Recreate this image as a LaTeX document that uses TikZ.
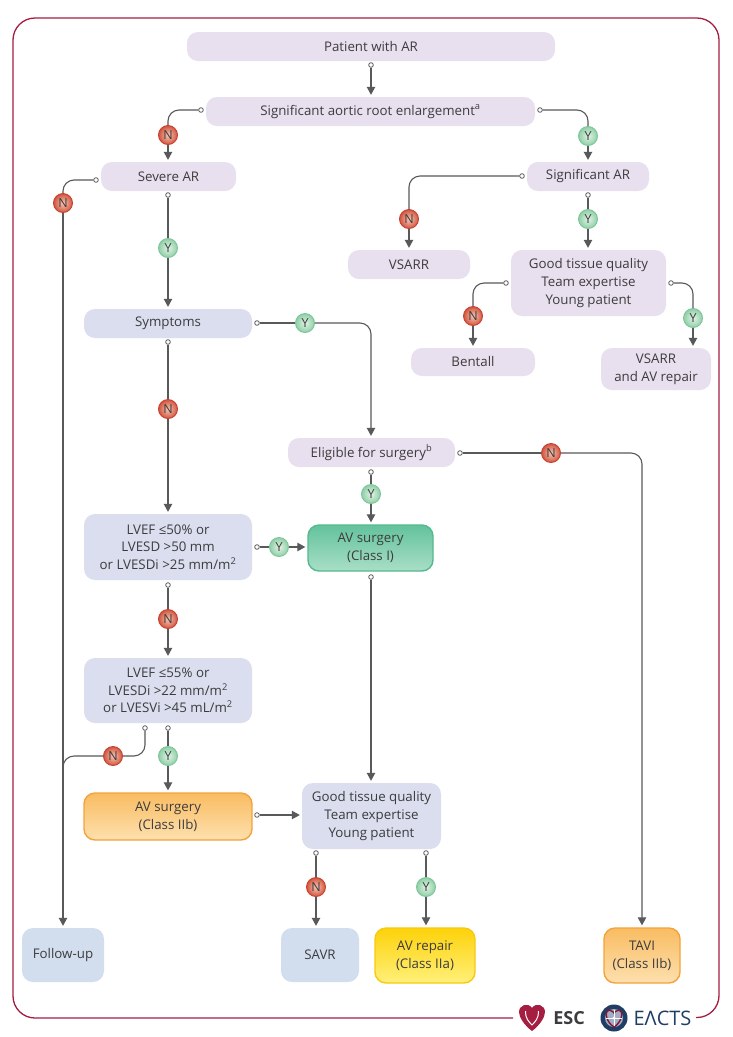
\documentclass[tikz,border=0pt]{standalone}
\usepackage{fontspec}
\setmainfont{Open Sans}
\usetikzlibrary{arrows.meta}
\definecolor{frameC}{HTML}{A51E41}
\definecolor{lineC}{HTML}{58595B}
\definecolor{textC}{HTML}{3C3C3E}
\definecolor{purpleC}{HTML}{E8E0EE}
\definecolor{blueC}{HTML}{DADEEE}
\definecolor{followC}{HTML}{D2DEEE}
\definecolor{navyC}{HTML}{1F3E66}
\definecolor{greenT}{HTML}{63C29C}
\definecolor{greenB}{HTML}{A9DFC6}
\definecolor{greenL}{HTML}{55B98F}
\definecolor{orangeT}{HTML}{F9BC62}
\definecolor{orangeB}{HTML}{FDE0AE}
\definecolor{orangeE}{HTML}{F3A33B}
\definecolor{yellowT}{HTML}{FDD20A}
\definecolor{yellowB}{HTML}{FFF07A}
\definecolor{yellowE}{HTML}{F8C912}
\definecolor{redI}{HTML}{F6C7B4}
\definecolor{redO}{HTML}{D2553F}
\definecolor{redE}{HTML}{C8402F}
\definecolor{greenI}{HTML}{E2F3E6}
\definecolor{greenO}{HTML}{8FCFA6}
\definecolor{greenE}{HTML}{7CC59A}
\tikzset{
  x=1pt,y=-1pt,
  bx/.style={rectangle,rounded corners=11pt,align=center,inner sep=0pt,text=textC,
    font=\fontsize{13.3}{17.6}\selectfont},
  purplebox/.style={bx,fill=purpleC},
  bluebox/.style={bx,fill=blueC},
  followbox/.style={bx,fill=followC},
  greenbox/.style={bx,draw=greenL,line width=1.4pt,top color=greenT,bottom color=greenB},
  orangebox/.style={bx,draw=orangeE,line width=1.4pt,top color=orangeT,bottom color=orangeB},
  yellowbox/.style={bx,draw=yellowE,line width=1.4pt,top color=yellowT,bottom color=yellowB},
  badge/.style={circle,inner sep=0pt,minimum size=19pt,text=textC,font=\fontsize{12.5}{14}\selectfont,line width=.9pt},
  badgeN/.style={badge,draw=redE,inner color=redI,outer color=redO},
  badgeY/.style={badge,draw=greenE,inner color=greenI,outer color=greenO},
  opendot/.style={circle,draw=lineC,fill=white,line width=.8pt,inner sep=0pt,minimum size=4.6pt},
  conn/.style={draw=lineC,line width=1.1pt,rounded corners=11pt},
  arr/.style={conn,-{Triangle[length=8pt,width=8.5pt]},shorten >=2pt},
}
% box by corners: style, name, x1, y1, x2, y2, text
\newcommand\cbox[7]{%
  \pgfmathsetmacro\cxx{(#3+#5)/2}\pgfmathsetmacro\cyy{(#4+#6)/2}%
  \pgfmathsetmacro\cww{#5-#3}\pgfmathsetmacro\chh{#6-#4}%
  \node[#1,minimum width=\cww pt,minimum height=\chh pt] (#2) at (\cxx,\cyy) {#7};}
\newcommand\opd[3]{\node[opendot] (#1) at (#2,#3) {};}
\begin{document}
\begin{tikzpicture}
\useasboundingbox (0,0) rectangle (732,1037);
\fill[white] (0,0) rectangle (732,1037);
% frame
\draw[frameC,line width=1.3pt,rounded corners=22pt]
  (513,1018) -- (13,1018) -- (13,18) -- (719,18) -- (719,1017.5) -- (696,1017.5);
% boxes
\cbox{purplebox}{patient}{187}{32}{555}{61}{Patient with AR}
\cbox{purplebox}{root}{206}{97}{535}{126}{Significant aortic root enlargement\textsuperscript{a}}
\cbox{purplebox}{severe}{101}{162}{236}{191}{Severe AR}
\cbox{purplebox}{sigar}{527}{162}{649}{191}{Significant AR}
\cbox{purplebox}{vsarr}{348}{250}{470}{279}{VSARR}
\cbox{purplebox}{gtop}{511}{250}{666}{316}{Good tissue quality\\Team expertise\\Young patient}
\cbox{purplebox}{bentall}{411}{348}{535}{376}{Bentall}
\cbox{purplebox}{vsarrav}{601}{348}{711}{390}{VSARR\\and AV repair}
\cbox{bluebox}{symptoms}{84}{309}{252}{338}{Symptoms}
\cbox{purplebox}{eligible}{288}{438}{455}{467}{Eligible for surgery\textsuperscript{b}}
\cbox{bluebox}{lvefa}{84}{514}{252}{580}{LVEF ≤50\% or\\LVESD >50 mm\\or LVESDi >25 mm/m\textsuperscript{2}}
\cbox{greenbox}{avone}{308}{525}{433}{571}{AV surgery\\(Class I)}
\cbox{bluebox}{lvefb}{84}{658}{252}{723}{LVEF ≤55\% or\\LVESDi >22 mm/m\textsuperscript{2}\\or LVESVi >45 mL/m\textsuperscript{2}}
\cbox{orangebox}{avtwo}{84}{793}{252}{840}{AV surgery\\(Class IIb)}
\cbox{bluebox}{gbot}{302}{783}{441}{849}{Good tissue quality\\Team expertise\\Young patient}
\cbox{followbox}{follow}{22}{928}{104}{982}{Follow-up}
\cbox{followbox}{savr}{281}{928}{359}{982}{SAVR}
\cbox{yellowbox}{avrep}{375}{928}{475}{983}{AV repair\\(Class IIa)}
\cbox{orangebox}{tavi}{604}{928}{680}{983}{TAVI\\(Class IIb)}
% badges
\node[badgeN] (n1) at (168,135) {N};
\node[badgeY] (y1) at (588,136) {Y};
\node[badgeN] (n2) at (63,203) {N};
\node[badgeY] (y2) at (168,248) {Y};
\node[badgeN] (n3) at (409,219) {N};
\node[badgeY] (y3) at (588,219) {Y};
\node[badgeN] (n4) at (473,316) {N};
\node[badgeY] (y4) at (693,318) {Y};
\node[badgeY] (y5) at (305,323) {Y};
\node[badgeN] (n5) at (168,409) {N};
\node[badgeN] (n6) at (551,453) {N};
\node[badgeY] (y6) at (371,494) {Y};
\node[badgeY] (y7) at (279,547) {Y};
\node[badgeN] (n7) at (168,619) {N};
\node[badgeN] (n8) at (113,756) {N};
\node[badgeY] (y8) at (168,756) {Y};
\node[badgeN] (n9) at (316,887) {N};
\node[badgeY] (y9) at (426,887) {Y};
% dots
\opd{d1}{371}{65}
\opd{d2}{201}{110}
\opd{d3}{540}{110}
\opd{d4}{96}{180}
\opd{d5}{168}{195}
\opd{d6}{522}{176}
\opd{d7}{588}{195}
\opd{d8}{506}{283}
\opd{d9}{671}{283}
\opd{d10}{257}{323}
\opd{d11}{168}{342}
\opd{d12}{460}{453}
\opd{d13}{371}{472}
\opd{d14}{257}{547}
\opd{d15}{168}{585}
\opd{d16}{145}{728}
\opd{d17}{168}{728}
\opd{d18}{257}{815}
\opd{d19}{371}{577}
\opd{d20}{316}{853}
\opd{d21}{426}{853}
\coordinate (jn) at (63,790);
% connectors
\draw[arr] (d1) -- (root.north -| d1);
\draw[conn] (d2) -| (n1);
\draw[arr] (n1) -- (severe.north -| n1);
\draw[conn] (d3) -| (y1);
\draw[arr] (y1) -- (sigar.north -| y1);
\draw[conn] (d4) -| (n2);
\draw[arr] (n2) -- (follow.north -| n2);
\draw[conn] (d5) -- (y2);
\draw[arr] (y2) -- (symptoms.north -| y2);
\draw[conn] (d6) -| (n3);
\draw[arr] (n3) -- (vsarr.north -| n3);
\draw[conn] (d7) -- (y3);
\draw[arr] (y3) -- (gtop.north -| y3);
\draw[conn] (d8) -| (n4);
\draw[arr] (n4) -- (bentall.north -| n4);
\draw[conn] (d9) -| (y4);
\draw[arr] (y4) -- (vsarrav.north -| y4);
\draw[conn] (d10) -- (y5);
\draw[arr] (y5) -| (eligible.north -| d13);
\draw[conn] (d11) -- (n5);
\draw[arr] (n5) -- (lvefa.north -| n5);
\draw[conn] (d12) -- (n6);
\draw[arr] (n6) -| (tavi.north);
\draw[conn] (d13) -- (y6);
\draw[arr] (y6) -- (avone.north -| y6);
\draw[conn] (d14) -- (y7);
\draw[arr] (y7) -- (avone.west |- y7);
\draw[conn] (d15) -- (n7);
\draw[arr] (n7) -- (lvefb.north -| n7);
\draw[conn] (d16) |- (n8);
\draw[conn] (n8) -| (jn);
\draw[conn] (d17) -- (y8);
\draw[arr] (y8) -- (avtwo.north -| y8);
\draw[arr] (d18) -- (gbot.west |- d18);
\draw[arr] (d19) -- (gbot.north -| d19);
\draw[conn] (d20) -- (n9);
\draw[arr] (n9) -- (savr.north -| n9);
\draw[conn] (d21) -- (y9);
\draw[arr] (y9) -- (avrep.north -| y9);
% logos
\fill[white] (515,1000) rectangle (696,1036);
\fill[frameC] (532,1031) .. controls (524,1025) and (519,1017) .. (519,1012)
  .. controls (519,1005) and (528,1002) .. (532,1008)
  .. controls (536,1002) and (545,1005) .. (545,1012)
  .. controls (545,1017) and (540,1025) .. (532,1031) -- cycle;
\draw[white,line width=1pt] (525.5,1011) .. controls (525,1018) and (529,1022) .. (532,1025)
  .. controls (535,1022) and (539,1018) .. (538.5,1011);
\node[text=textC,font=\fontsize{18}{20}\selectfont\bfseries,inner sep=0pt] (esc) at (569,1018) {ESC};
\fill[navyC] (614,1018) circle (13.5);
\fill[blueC!70!navyC] (614,1018) circle (9);
\draw[frameC!80!black,line width=1.4pt] (614,1027) .. controls (606,1022) and (604,1011) .. (609,1010) .. controls (612,1010) and (614,1013) .. (614,1013) .. controls (614,1013) and (616,1010) .. (619,1010) .. controls (624,1011) and (622,1022) .. (614,1027);
\draw[white,line width=.7pt] (606,1018) -- (622,1018) (614,1010) -- (614,1026);
\fill[white] (614,1018) circle (1.6);
\node[text=navyC,font=\fontsize{20}{22}\selectfont,inner sep=0pt] (eacts) at (662.5,1018) {EΛCTS};
\end{tikzpicture}
\end{document}
